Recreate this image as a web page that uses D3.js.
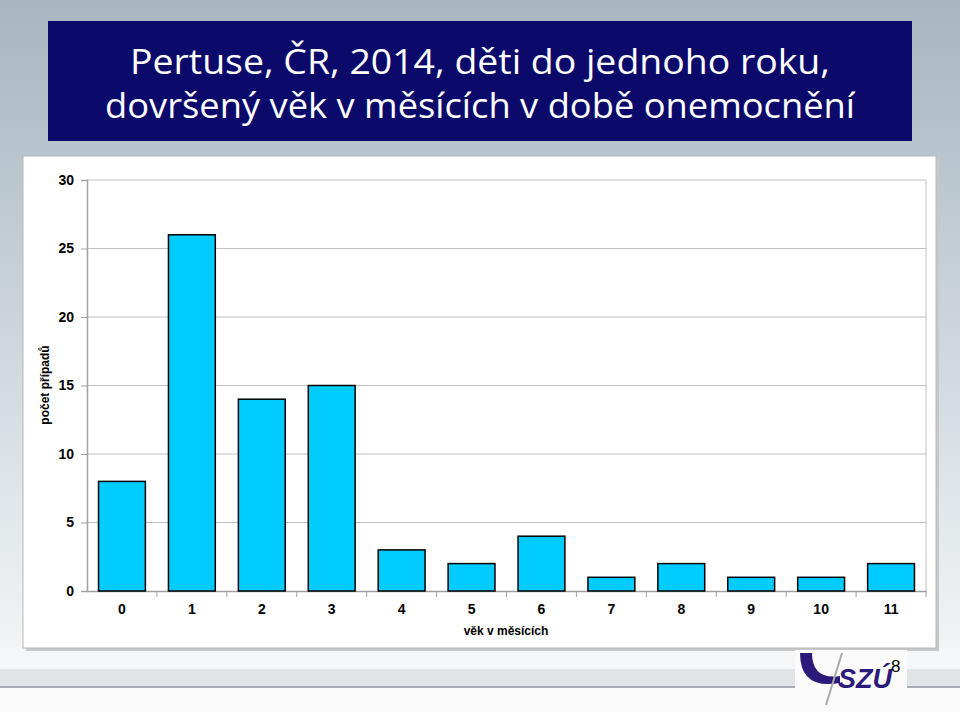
<!DOCTYPE html>
<html><head><meta charset="utf-8">
<script src="https://cdn.jsdelivr.net/npm/d3@7"></script>
<style>html,body{margin:0;padding:0;overflow:hidden;background:#fff}</style>
</head><body>
<script>
const categories = ["0","1","2","3","4","5","6","7","8","9","10","11"];
const cases = [8, 26, 14, 15, 3, 2, 4, 1, 2, 1, 1, 2];
const yTicks = [0, 5, 10, 15, 20, 25, 30];
const titleLines = ["Pertuse, ČR, 2014, děti do jednoho roku,", "dovršený věk v měsících v době onemocnění"];
const xTitle = "věk v měsících";
const yTitle = "počet případů";

const W = 960, H = 712;
const svg = d3.select("body").append("svg").attr("width", W).attr("height", H);
const defs = svg.append("defs");
const bg = defs.append("linearGradient").attr("id","bg").attr("x1",0).attr("y1",0).attr("x2",0).attr("y2",1);
bg.append("stop").attr("offset","0%").attr("stop-color","#a7b6c1");
bg.append("stop").attr("offset","50%").attr("stop-color","#cdd6dc");
bg.append("stop").attr("offset","100%").attr("stop-color","#f4f6f7");
svg.append("rect").attr("width",W).attr("height",669).attr("fill","url(#bg)");
// bottom strip
svg.append("rect").attr("x",0).attr("y",669).attr("width",W).attr("height",18).attr("fill","#e1e4e7");
svg.append("rect").attr("x",0).attr("y",686).attr("width",W).attr("height",2).attr("fill","#a9aab2");
svg.append("rect").attr("x",0).attr("y",688).attr("width",W).attr("height",24).attr("fill","#fbfbfb");
svg.append("rect").attr("x",0).attr("y",648).attr("width",W).attr("height",21).attr("fill","#f5f6f7");

// title box
svg.append("rect").attr("x",48).attr("y",21).attr("width",864).attr("height",120).attr("fill","#0b0a6b");
svg.append("g").selectAll("text").data(titleLines).join("text")
  .attr("x",480).attr("y",(d,i)=>74+i*44).attr("text-anchor","middle")
  .attr("fill","#ffffff").attr("font-family","'Open Sans', 'DejaVu Sans', sans-serif")
  .attr("font-size",34).attr("textLength",(d,i)=>i===0?700:750).attr("lengthAdjust","spacingAndGlyphs")
  .text(d=>d);

// chart box
svg.append("rect").attr("x",26).attr("y",159).attr("width",913).attr("height",492).attr("fill","#c8c8c8");
svg.append("rect").attr("x",23).attr("y",156).attr("width",913).attr("height",492).attr("fill","#ffffff").attr("stroke","#b8b8b8").attr("stroke-width",1);

const m = {l:87, r:926, t:180, b:591};
const x = d3.scaleBand().domain(categories).range([m.l, m.r]).paddingInner(0.33).paddingOuter(0.165);
const xb = d3.scaleBand().domain(categories).range([m.l, m.r]);
const y = d3.scaleLinear().domain([0,30]).range([m.b, m.t]);

// gridlines
svg.append("g").selectAll("line").data(yTicks.filter(t=>t>0)).join("line")
  .attr("x1",m.l).attr("x2",m.r).attr("y1",d=>y(d)).attr("y2",d=>y(d))
  .attr("stroke","#c0c0c0").attr("stroke-width",1);
svg.append("line").attr("x1",m.r).attr("x2",m.r).attr("y1",m.t).attr("y2",m.b).attr("stroke","#c0c0c0");

// y axis
const ya = svg.append("g").attr("transform",`translate(${m.l},0)`)
  .call(d3.axisLeft(y).tickValues(yTicks).tickSize(6).tickPadding(7));
ya.select(".domain").attr("stroke","#a0a0a0").attr("stroke-width",1.5);
ya.selectAll(".tick line").attr("stroke","#a0a0a0");
ya.selectAll("text").attr("font-family","Arial, 'Liberation Sans', sans-serif").attr("font-weight","bold").attr("font-size",14).attr("fill","#000");

// x axis
const xa = svg.append("g").attr("transform",`translate(0,${m.b})`)
  .call(d3.axisBottom(xb).tickSize(0).tickPadding(13));
xa.select(".domain").attr("stroke","#a0a0a0").attr("stroke-width",1.5);
xa.selectAll("text").attr("font-family","Arial, 'Liberation Sans', sans-serif").attr("font-weight","bold").attr("font-size",14).attr("fill","#000");
svg.append("g").selectAll("line").data(categories.slice(1)).join("line")
  .attr("x1",d=>xb(d)).attr("x2",d=>xb(d)).attr("y1",m.b).attr("y2",m.b+6)
  .attr("stroke","#a0a0a0");
svg.append("line").attr("x1",m.r).attr("x2",m.r).attr("y1",m.b).attr("y2",m.b+6).attr("stroke","#a0a0a0");

// bars
svg.append("g").selectAll("rect").data(cases).join("rect")
  .attr("x",(d,i)=>x(categories[i])).attr("width",x.bandwidth())
  .attr("y",d=>y(d)).attr("height",d=>y(0)-y(d))
  .attr("fill","#00ccff").attr("stroke","#000").attr("stroke-width",1.5);

// axis titles
svg.append("text").attr("x",506).attr("y",635).attr("text-anchor","middle")
  .attr("font-family","Arial, 'Liberation Sans', sans-serif").attr("font-weight","bold").attr("font-size",12).text(xTitle);
svg.append("text").attr("transform","translate(49,385) rotate(-90)").attr("text-anchor","middle")
  .attr("font-family","Arial, 'Liberation Sans', sans-serif").attr("font-weight","bold").attr("font-size",12).text(yTitle);

// logo area
svg.append("rect").attr("x",795).attr("y",650).attr("width",112).attr("height",62).attr("fill","#fbfbfb");
svg.append("path").attr("d","M800,653 Q800,690 840,683 L840,676 Q812,680 812,653 Z").attr("fill","#2b1a7a");
svg.append("line").attr("x1",842).attr("y1",653).attr("x2",826).attr("y2",705).attr("stroke","#aaa").attr("stroke-width",2);
svg.append("text").attr("x",838).attr("y",688).attr("font-family","Arial, 'Liberation Sans', sans-serif")
  .attr("font-weight","bold").attr("font-style","italic").attr("font-size",27).attr("fill","#2b1a7a").text("SZÚ");
svg.append("text").attr("x",891).attr("y",672).attr("font-family","Arial, 'Liberation Sans', sans-serif")
  .attr("font-size",17).attr("fill","#000").text("8");
</script>
</body></html>
